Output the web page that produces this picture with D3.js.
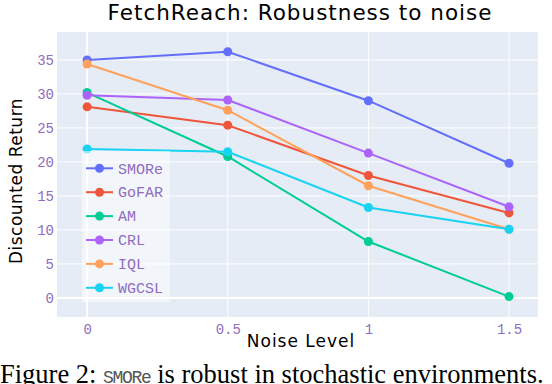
<!DOCTYPE html>
<html>
<head>
<meta charset="utf-8">
<script src="https://cdn.jsdelivr.net/npm/d3@7"></script>
<style>
  body { margin: 0; background: #fff; }
  svg { display: block; }
</style>
</head>
<body>
<svg></svg>
<script>
let width = 552;
let height = 384;

// values
let noiseLevels = [0, 0.5, 1, 1.5];
let seriesNames = ["SMORe", "GoFAR", "AM", "CRL", "IQL", "WGCSL"];
let smore = [35.0, 36.2, 29.0, 19.8];
let gofar = [28.1, 25.4, 18.0, 12.5];
let am = [30.2, 20.8, 8.3, 0.2];
let crl = [29.8, 29.1, 21.3, 13.4];
let iql = [34.4, 27.6, 16.5, 10.1];
let wgcsl = [21.9, 21.5, 13.3, 10.1];
let colors = ["#636efa", "#ef553b", "#00cc96", "#ab63fa", "#ffa15a", "#19d3f3"];
let xTicks = [0, 0.5, 1, 1.5];
let yTicks = [0, 5, 10, 15, 20, 25, 30, 35];

let series = [smore, gofar, am, crl, iql, wgcsl].map((vals, i) => {
  return { name: seriesNames[i], color: colors[i], values: vals };
});

let svg = d3.select("svg")
            .attr("width", width)
            .attr("height", height);

let plot = { left: 57, right: 538, top: 32, bottom: 317 };

let xScale = d3.scaleLinear()
               .domain([-0.107, 1.603])
               .range([plot.left, plot.right]);

let yScale = d3.scaleLinear()
               .domain([-2.8, 39.1])
               .range([plot.bottom, plot.top]);

let tickColor = "#8f6cc0";
let monoFont = "'Liberation Mono', 'DejaVu Sans Mono', monospace";
let sansFont = "'DejaVu Sans', Verdana, sans-serif";

// background
svg.append("rect")
   .attr("x", plot.left)
   .attr("y", plot.top)
   .attr("width", plot.right - plot.left)
   .attr("height", plot.bottom - plot.top)
   .attr("fill", "#e5ecf6");

// grid
svg.append("g")
   .selectAll("line")
   .data(yTicks)
   .enter()
   .append("line")
   .attr("x1", plot.left)
   .attr("x2", plot.right)
   .attr("y1", (d) => yScale(d))
   .attr("y2", (d) => yScale(d))
   .attr("stroke", "#fff")
   .attr("stroke-width", (d) => d === 0 ? 2 : 1);

svg.append("g")
   .selectAll("line")
   .data(xTicks)
   .enter()
   .append("line")
   .attr("x1", (d) => xScale(d))
   .attr("x2", (d) => xScale(d))
   .attr("y1", plot.top)
   .attr("y2", plot.bottom)
   .attr("stroke", "#fff")
   .attr("stroke-width", (d) => d === 0 ? 2 : 1);

// axes (labels only)
let xAxis = svg.append("g")
   .attr("transform", "translate(0," + plot.bottom + ")")
   .call(d3.axisBottom(xScale).tickValues(xTicks).tickSize(0).tickPadding(7).tickFormat(d3.format("~g")));
let yAxis = svg.append("g")
   .attr("transform", "translate(" + plot.left + ",0)")
   .call(d3.axisLeft(yScale).tickValues(yTicks).tickSize(0).tickPadding(3));
[xAxis, yAxis].forEach((ax) => {
  ax.select(".domain").remove();
  ax.selectAll("text")
    .attr("fill", tickColor)
    .style("font-family", monoFont)
    .style("font-size", "14px");
});

// lines + markers
let line = d3.line()
             .x((d, i) => xScale(noiseLevels[i]))
             .y((d) => yScale(d));

series.forEach((s) => {
  svg.append("path")
     .datum(s.values)
     .attr("d", line)
     .attr("fill", "none")
     .attr("stroke", s.color)
     .attr("stroke-width", 2);
  svg.append("g")
     .selectAll("circle")
     .data(s.values)
     .enter()
     .append("circle")
     .attr("cx", (d, i) => xScale(noiseLevels[i]))
     .attr("cy", (d) => yScale(d))
     .attr("r", 4.5)
     .attr("fill", s.color);
});

// legend
let legend = svg.append("g").attr("transform", "translate(82,151)");
legend.append("rect")
      .attr("width", 88)
      .attr("height", 151)
      .attr("fill", "rgba(255,255,255,0.5)");
let items = legend.selectAll(".item")
      .data(series)
      .enter()
      .append("g")
      .attr("class", "item")
      .attr("transform", (d, i) => "translate(0," + (17.3 + i * 23.9) + ")");
items.append("line")
     .attr("x1", 4).attr("x2", 31)
     .attr("stroke", (d) => d.color)
     .attr("stroke-width", 2);
items.append("circle")
     .attr("cx", 17.5)
     .attr("r", 4.5)
     .attr("fill", (d) => d.color);
items.append("text")
     .attr("x", 36)
     .attr("dy", "0.35em")
     .attr("fill", tickColor)
     .style("font-family", monoFont)
     .style("font-size", "15px")
     .text((d) => d.name);

// titles
svg.append("text")
   .attr("x", 300)
   .attr("y", 20)
   .attr("text-anchor", "middle")
   .style("font-family", sansFont)
   .style("font-size", "21.5px")
   .style("letter-spacing", "1px")
   .text("FetchReach: Robustness to noise");

svg.append("text")
   .attr("x", 301)
   .attr("y", 347)
   .attr("text-anchor", "middle")
   .style("font-family", sansFont)
   .style("font-size", "17px")
   .style("letter-spacing", "1px")
   .text("Noise Level");

svg.append("text")
   .attr("transform", "translate(22,181) rotate(-90)")
   .attr("text-anchor", "middle")
   .style("font-family", sansFont)
   .style("font-size", "17px")
   .style("letter-spacing", "0.5px")
   .text("Discounted Return");

// caption below the figure (cut by the frame, as in the original)
let caption = svg.append("text")
   .attr("x", 0)
   .attr("y", 383)
   .style("font-family", "'Liberation Serif', 'Times New Roman', serif")
   .style("font-size", "26.5px");
caption.append("tspan").text("Figure 2: ");
caption.append("tspan")
       .style("font-family", monoFont)
       .style("font-size", "18px")
       .style("letter-spacing", "-1.3px")
       .attr("fill", "#555")
       .text("SMORe");
caption.append("tspan").text(" is robust in stochastic environments.");
</script>
</body>
</html>
